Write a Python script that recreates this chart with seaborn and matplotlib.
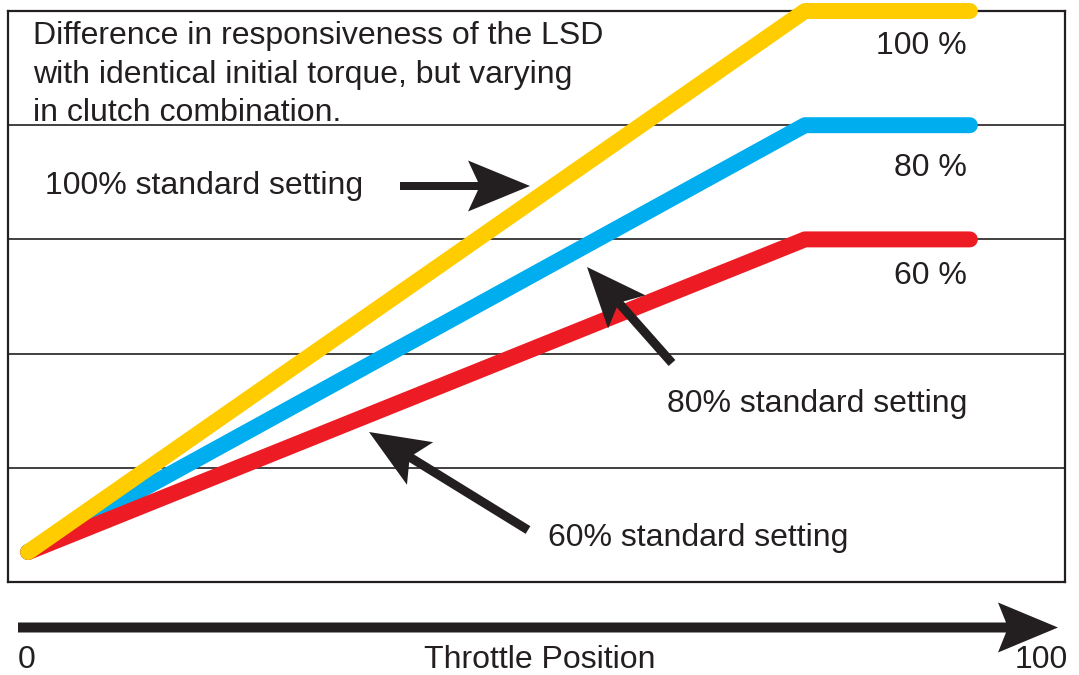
import numpy as np
import pandas as pd
import matplotlib
matplotlib.use("Agg")
import matplotlib.pyplot as plt
import seaborn as sns
from matplotlib.patches import Polygon
from matplotlib.transforms import Affine2D

# ---- data ----
series = ["80 %", "60 %", "100 %"]          # drawing order (yellow on top)
throttle = [1.9, 75.4, 91.0]                  # throttle position (axis units)
resp_100 = [5.25, 100.0, 100.0]
resp_80 = [5.25, 80.0, 80.0]
resp_60 = [5.25, 60.0, 60.0]
colors = {"100 %": "#FFCC00", "80 %": "#00AEEF", "60 %": "#ED1C24"}
title_lines = ["Difference in responsiveness of the LSD",
               "with identical initial torque, but varying",
               "in clutch combination."]

df = pd.concat([
    pd.DataFrame({"x": throttle, "y": resp_80, "s": "80 %"}),
    pd.DataFrame({"x": throttle, "y": resp_60, "s": "60 %"}),
    pd.DataFrame({"x": throttle, "y": resp_100, "s": "100 %"}),
], ignore_index=True)

sns.set_style("white")
plt.rcParams["font.family"] = ["Liberation Sans", "DejaVu Sans"]

W, H = 1079, 675
fig = plt.figure(figsize=(W / 100, H / 100), dpi=100)
ax = fig.add_axes([8 / W, (H - 582) / H, 1057 / W, 571 / H])

sns.lineplot(data=df, x="x", y="y", hue="s", hue_order=series, palette=colors,
             linewidth=11.5, solid_capstyle="round", legend=False, ax=ax,
             sort=False, estimator=None, clip_on=False, zorder=3)

ax.set_xlim(0, 100)
ax.set_ylim(0, 100)
ax.set_yticks([20, 40, 60, 80])
ax.set_xticks([])
ax.tick_params(left=False, labelleft=False)
ax.grid(axis="y", color="#231F20", linewidth=1.2)
ax.set_xlabel("")
ax.set_ylabel("")
for sp in ax.spines.values():
    sp.set_visible(True)
    sp.set_color("#231F20")
    sp.set_linewidth(1.6)

# pixel transform (origin top-left)
px = Affine2D().scale(1, -1).translate(0, H)
INK = "#231F20"


def arrow(x0, y0, x1, y1, w=9, hw=50, hl=60, notch=10):
    p0 = np.array([x0, y0], float)
    p1 = np.array([x1, y1], float)
    u = (p1 - p0) / np.linalg.norm(p1 - p0)
    n = np.array([-u[1], u[0]])
    b = p1 - u * hl
    s = b + u * notch
    pts = [p0 + n * w / 2, s + n * w / 2, b + n * hw / 2, p1,
           b - n * hw / 2, s - n * w / 2, p0 - n * w / 2]
    fig.patches.append(Polygon(pts, closed=True, facecolor=INK, edgecolor="none",
                               transform=px, figure=fig, zorder=5))


arrow(400, 186, 530, 186, w=8, hw=51, hl=62, notch=10)
arrow(672, 363, 587, 267)
arrow(528, 530, 369, 432)
arrow(18, 627.5, 1058, 627.5, w=10, hw=50, hl=60, notch=8)

fs = 23
dy = 3
for i, line in enumerate(title_lines):
    fig.text(33, 33 + dy + 38.5 * i, line, transform=px, fontsize=fs, color=INK,
             ha="left", va="center")

fig.text(967, 43 + dy, "100 %", transform=px, fontsize=fs, color=INK, ha="right", va="center")
fig.text(967, 165 + dy, "80 %", transform=px, fontsize=fs, color=INK, ha="right", va="center")
fig.text(967, 273 + dy, "60 %", transform=px, fontsize=fs, color=INK, ha="right", va="center")
fig.text(45, 183 + dy, "100% standard setting", transform=px, fontsize=fs, color=INK, ha="left", va="center")
fig.text(667, 401 + dy, "80% standard setting", transform=px, fontsize=fs, color=INK, ha="left", va="center")
fig.text(548, 535 + dy, "60% standard setting", transform=px, fontsize=fs, color=INK, ha="left", va="center")
fig.text(18, 657 + dy, "0", transform=px, fontsize=fs, color=INK, ha="left", va="center")
fig.text(540, 657 + dy, "Throttle Position", transform=px, fontsize=fs, color=INK, ha="center", va="center")
fig.text(1068, 657 + dy, "100", transform=px, fontsize=fs, color=INK, ha="right", va="center")

fig.savefig("out.png", dpi=100, facecolor="white")
